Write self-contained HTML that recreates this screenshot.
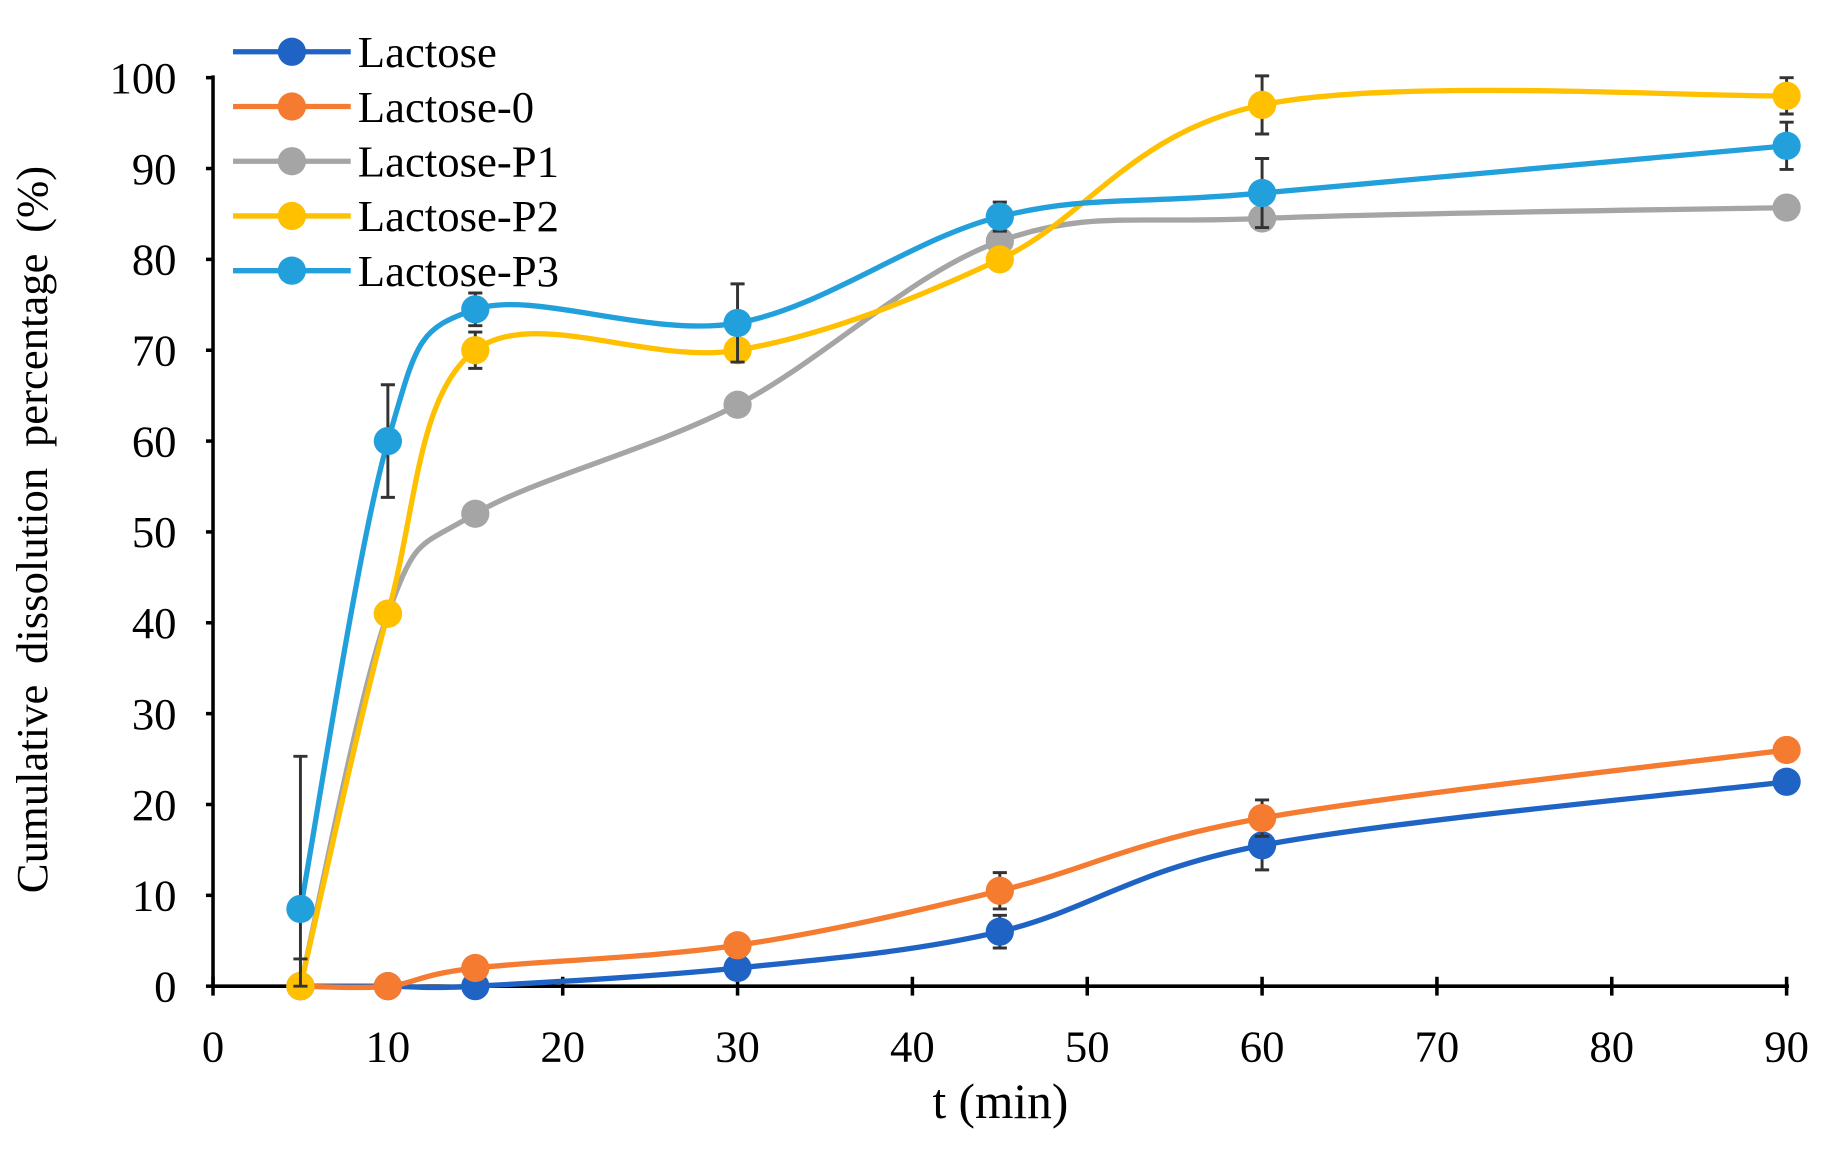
<!DOCTYPE html>
<html><head><style>html,body{margin:0;padding:0;background:#fff}svg{display:block}</style></head>
<body>
<svg id="s" width="1836" height="1158" viewBox="0 0 1560 984" preserveAspectRatio="none" xmlns="http://www.w3.org/2000/svg" font-family="Liberation Serif, serif">
<g id="ax" stroke="#000" stroke-width="3" fill="none">
<line x1="181" y1="838" x2="1520" y2="838"/>
<line x1="181" y1="64" x2="181" y2="838"/>
</g>
<g id="lab" font-size="38" fill="#000"></g>
<g id="plot"></g>
<text x="40" y="450" font-size="38" text-anchor="middle" word-spacing="8" transform="rotate(-90 40 450)">Cumulative  dissolution percentage (%)</text>
<text x="850" y="950" font-size="42" text-anchor="middle">t (min)</text>
<g id="leg" font-size="38"></g>
</svg>
<script>
const NS="http://www.w3.org/2000/svg";
const X=v=>181+v*14.856, Y=v=>838-v*7.72;
function el(p,t,a,txt){const e=document.createElementNS(NS,t);for(const k in a)e.setAttribute(k,a[k]);if(txt!=null)e.textContent=txt;document.getElementById(p).appendChild(e);return e;}
for(let i=0;i<=90;i+=10){el('ax','line',{x1:X(i),y1:830,x2:X(i),y2:846});el('lab','text',{x:X(i),y:902,'text-anchor':'middle'},i);}
for(let i=0;i<=100;i+=10){el('ax','line',{x1:175,y1:Y(i),x2:181,y2:Y(i)});el('lab','text',{x:150,y:Y(i)+13,'text-anchor':'end'},i);}
const t=[5,10,15,30,45,60,90];
const S=[
{n:'Lactose',c:'#1f64c4',d:[0,0,0,2,6,15.5,22.5],e:[0,0,0,0,1.8,2.7,0]},
{n:'Lactose-0',c:'#f47b2f',d:[0,0,2,4.5,10.5,18.5,26],e:[0,1,0,0,2,2,0]},
{n:'Lactose-P1',c:'#a5a5a5',d:[0,41,52,64,82,84.5,85.7],e:[0,0,0,0,0,0,0]},
{n:'Lactose-P2',c:'#ffc000',d:[0,41,70,70,80,97,98],e:[3,0,2,1,0,3.2,2]},
{n:'Lactose-P3',c:'#22a0dc',d:[8.5,60,74.5,73,84.7,87.3,92.5],e:[16.8,6.2,1.8,4.3,1.6,3.8,2.6]}];
function path(pts){let d=`M${pts[0][0]},${pts[0][1]}`;for(let i=0;i<pts.length-1;i++){const p0=pts[i-1]||pts[i],p1=pts[i],p2=pts[i+1],p3=pts[i+2]||p2;const k=6;d+=` C${p1[0]+(p2[0]-p0[0])/k},${p1[1]+(p2[1]-p0[1])/k} ${p2[0]-(p3[0]-p1[0])/k},${p2[1]-(p3[1]-p1[1])/k} ${p2[0]},${p2[1]}`;}return d;}
S.forEach(s=>{const pts=t.map((x,i)=>[X(x),Y(s.d[i])]);
el('plot','path',{d:path(pts),fill:'none',stroke:s.c,'stroke-width':4.5});
s.d.forEach((v,i)=>{if(s.e[i]>0){const x=X(t[i]),a=Y(v+s.e[i]),b=Y(Math.max(0,v-s.e[i]));el('plot','path',{d:`M${x},${a}V${b}M${x-6},${a}H${x+6}M${x-6},${b}H${x+6}`,stroke:'#333','stroke-width':2.5,fill:'none'});}});
pts.forEach(p=>el('plot','circle',{cx:p[0],cy:p[1],r:12,fill:s.c}));});
S.forEach((s,i)=>{const y=44+i*46.5;el('leg','line',{x1:198,y1:y,x2:298,y2:y,stroke:s.c,'stroke-width':4.5});el('leg','circle',{cx:248,cy:y,r:12,fill:s.c});el('leg','text',{x:304,y:y+13},s.n);});
</script>
</body></html>
